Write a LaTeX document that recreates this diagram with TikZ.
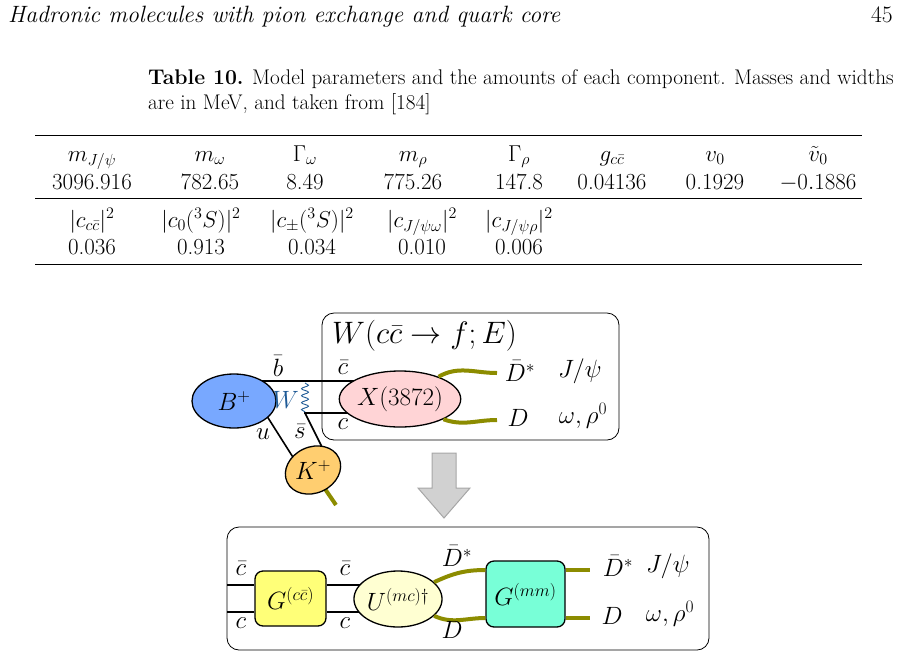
\documentclass[tikz,border=0pt]{standalone}
\usepackage{fix-cm}
\usepackage{tikz}
\usetikzlibrary{shapes.geometric,decorations.pathmorphing}
\definecolor{bblue}{RGB}{120,168,255}
\definecolor{xpink}{RGB}{255,212,214}
\definecolor{korange}{RGB}{255,206,112}
\definecolor{gyel}{RGB}{255,255,120}
\definecolor{uyel}{RGB}{255,255,210}
\definecolor{mgreen}{RGB}{120,255,215}
\definecolor{gold}{RGB}{140,140,0}
\definecolor{wblue}{RGB}{30,90,150}
\begin{document}
\begin{tikzpicture}[x=1pt,y=-1pt,
  txt/.style={inner sep=0pt},
  tab/.style={inner sep=0pt,font=\fontsize{23}{27}\selectfont},
  dg/.style={inner sep=0pt,font=\fontsize{25}{30}\selectfont},
  q/.style={line width=1.6pt},
  m/.style={line width=4pt,color=gold},
  blob/.style={draw,line width=1.3pt,ellipse},
  box/.style={draw,line width=1.3pt,rounded corners=8pt},
  frame/.style={draw,line width=0.8pt,rounded corners=12pt}]
\useasboundingbox (0,0) rectangle (900,657);
% header
\node[txt,anchor=base west,font=\fontsize{23.6}{28}\selectfont\itshape] (hd) at (8,22) {Hadronic molecules with pion exchange and quark core};
\node[txt,anchor=base east,font=\fontsize{23.6}{28}\selectfont] (pg) at (893,22) {45};
% caption
\node[txt,anchor=base west,font=\fontsize{21.2}{25}\selectfont] (c1) at (148,84) {\textbf{Table 10.} Model parameters and the amounts of each component. Masses and widths};
\node[txt,anchor=base west,font=\fontsize{21.2}{25}\selectfont] (c2) at (148,109) {are in MeV, and taken from [184]};
% table rules
\draw[line width=0.8pt] (35,135) -- (862,135);
\draw[line width=0.5pt] (35,198) -- (862,198);
\draw[line width=0.8pt] (35,264) -- (862,264);
\foreach \x/\a/\b [count=\i] in {92/{$m_{J/\psi}$}/3096.916, 210/{$m_\omega$}/782.65, 305/{$\Gamma_\omega$}/8.49, 413/{$m_\rho$}/775.26, 519/{$\Gamma_\rho$}/147.8, 612/{$g_{c\bar c}$}/0.04136, 715/{$v_0$}/0.1929, 818/{$\tilde v_0$}/{$-0.1886$}}
 {\node[tab,anchor=base] (h\i) at (\x,161) {\a}; \node[tab,anchor=base] (v\i) at (\x,189) {\b};}
\foreach \x/\a/\b [count=\i] in {92/{$|c_{c\bar c}|^2$}/0.036, 201/{$|c_0(^3S)|^2$}/0.913, 312/{$|c_\pm(^3S)|^2$}/0.034, 422/{$|c_{J/\psi\omega}|^2$}/0.010, 519/{$|c_{J/\psi\rho}|^2$}/0.006}
 {\node[tab,anchor=base] (k\i) at (\x,227) {\a}; \node[tab,anchor=base] (w\i) at (\x,254) {\b};}
% top diagram
\node[frame,minimum width=297pt,minimum height=127pt] (fr1) at (470.5,376.5) {};
\node[dg,anchor=base west,font=\fontsize{31}{36}\selectfont] (wt) at (332,343) {$W(c\bar c\to f;E)$};
\coordinate (b1) at (245,381); \coordinate (c1a) at (304,413);
\coordinate (u1) at (250,412); \coordinate (u2) at (265,413); \coordinate (s1) at (305,413);
\draw[q] (b1) -- (380,381);
\draw[q] (c1a) -- (380,413);
\draw[q] (u1) -- (u2) -- (296,462);
\draw[q] (s1) -- (324,451);
\draw[m] (323,486) -- (336,505);
\node[blob,fill=bblue,minimum width=84pt,minimum height=54pt,dg] (B) at (234,401) {$B^+$};
\node[blob,fill=xpink,minimum width=108pt,minimum height=56pt,dg,inner sep=0pt] (X) at (400,399) {$X(3872)$};
\node[blob,fill=korange,minimum width=54pt,minimum height=46pt,rotate=25,dg] (K) at (313,470) {\rotatebox{-25}{$K^+$}};
\draw[wblue,line width=0.9pt,decorate,decoration={snake,amplitude=3.5pt,segment length=7pt}] (305,383) -- (305,412);
\coordinate (d1) at (497,373); \coordinate (d2) at (497,420);
\draw[m] (X.30) to[out=30,in=180] (d1);
\draw[m] (X.-25) to[out=-20,in=180] (d2);
\node[dg,wblue,anchor=east] (Wl) at (299,400) {$W$};
\node[dg] (lb) at (278,366) {$\bar b$};
\node[dg] (lc1) at (343,367) {$\bar c$};
\node[dg] (lc2) at (343,424) {$c$};
\node[dg] (lu) at (263,434) {$u$};
\node[dg] (ls) at (300,431) {$\bar s$};
\node[dg] (lD1) at (520,371) {$\bar D^*$};
\node[dg] (lJ1) at (580,371) {$J/\psi$};
\node[dg] (lD2) at (518,418) {$D$};
\node[dg] (lo1) at (583,416) {$\omega,\rho^0$};
% arrow
\draw[draw=black!35,fill=black!18,line width=1pt] (432,453) -- (456,453) -- (456,488) -- (470,488) -- (444,518) -- (418,488) -- (432,488) -- cycle;
% bottom diagram
\node[frame,minimum width=482pt,minimum height=123pt] (fr2) at (468,588.5) {};
\coordinate (l1) at (227,585); \coordinate (l2) at (227,612);
\node[box,fill=gyel,minimum width=71pt,minimum height=55pt,dg] (G1) at (290.5,598.5) {$G^{(c\bar c)}$};
\draw[q] (l1) -- (G1.west |- l1);
\draw[q] (l2) -- (G1.west |- l2);
\draw[q] (G1.east |- l1) -- (362,585);
\draw[q] (G1.east |- l2) -- (362,612);
\node[blob,fill=uyel,minimum width=88pt,minimum height=56pt,dg,inner sep=0pt] (U) at (398,599) {$U^{(mc)\dagger}$};
\node[box,fill=mgreen,minimum width=79pt,minimum height=66pt,dg] (G2) at (525.5,594) {$G^{(mm)}$};
\draw[m] (U.25) to[out=25,in=180] (G2.west |- 0,570);
\draw[m] (U.-25) to[out=-25,in=180] (G2.west |- 0,618);
\coordinate (e1) at (590,570); \coordinate (e2) at (590,618);
\draw[m] (G2.east |- e1) -- (e1);
\draw[m] (G2.east |- e2) -- (e2);
\node[dg] (m1) at (241,568) {$\bar c$};
\node[dg] (m2) at (241,623) {$c$};
\node[dg] (m3) at (345,568) {$\bar c$};
\node[dg] (m4) at (345,623) {$c$};
\node[dg] (m5) at (457,556) {$\bar D^*$};
\node[dg] (m6) at (452,630) {$D$};
\node[dg] (m7) at (618,566) {$\bar D^*$};
\node[dg] (m8) at (668,566) {$J/\psi$};
\node[dg] (m9) at (612,616) {$D$};
\node[dg] (m10) at (670,614) {$\omega,\rho^0$};
\end{tikzpicture}
\end{document}
